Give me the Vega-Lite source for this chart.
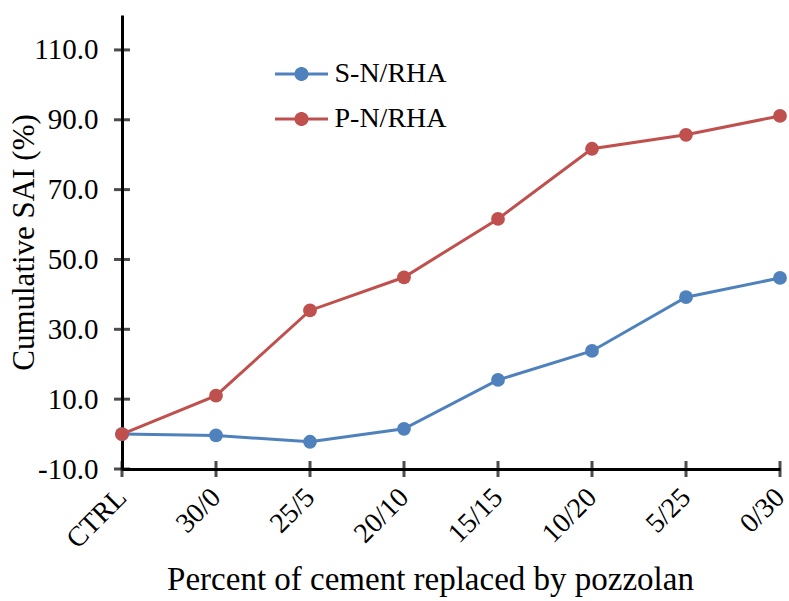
{
  "$schema": "https://vega.github.io/schema/vega-lite/v6.json",
  "autosize": {"type": "none"},
  "padding": {"left": 122, "top": 15, "right": 9, "bottom": 132},
  "width": 658,
  "height": 454,
  "background": "white",
  "config": {
    "view": {"stroke": null},
    "font": "Times New Roman, Liberation Serif, serif"
  },
  "layer": [
    {
      "data": {
        "values": [
          {"mix": "CTRL", "series": "S-N/RHA", "sai": 0.0},
          {"mix": "30/0", "series": "S-N/RHA", "sai": -0.4},
          {"mix": "25/5", "series": "S-N/RHA", "sai": -2.2},
          {"mix": "20/10", "series": "S-N/RHA", "sai": 1.5},
          {"mix": "15/15", "series": "S-N/RHA", "sai": 15.5},
          {"mix": "10/20", "series": "S-N/RHA", "sai": 23.8},
          {"mix": "5/25", "series": "S-N/RHA", "sai": 39.2},
          {"mix": "0/30", "series": "S-N/RHA", "sai": 44.7},
          {"mix": "CTRL", "series": "P-N/RHA", "sai": 0.0},
          {"mix": "30/0", "series": "P-N/RHA", "sai": 11.0},
          {"mix": "25/5", "series": "P-N/RHA", "sai": 35.4},
          {"mix": "20/10", "series": "P-N/RHA", "sai": 44.9},
          {"mix": "15/15", "series": "P-N/RHA", "sai": 61.6},
          {"mix": "10/20", "series": "P-N/RHA", "sai": 81.7},
          {"mix": "5/25", "series": "P-N/RHA", "sai": 85.7},
          {"mix": "0/30", "series": "P-N/RHA", "sai": 91.1}
        ]
      },
      "mark": {"type": "line", "strokeWidth": 3, "point": {"size": 190, "filled": true, "opacity": 1}},
      "encoding": {
        "x": {
          "field": "mix",
          "type": "ordinal",
          "sort": ["CTRL", "30/0", "25/5", "20/10", "15/15", "10/20", "5/25", "0/30"],
          "scale": {"type": "point", "padding": 0},
          "axis": {
            "title": "Percent of cement replaced by pozzolan",
            "titleFont": "Times New Roman, Liberation Serif, serif",
            "titleFontSize": 33,
            "titleFontWeight": "normal",
            "titleColor": "black",
            "titlePadding": 10,
            "titleX": 308,
            "labelAngle": -45,
            "labelAlign": "right",
            "labelBaseline": "middle",
            "labelFont": "Times New Roman, Liberation Serif, serif",
            "labelFontSize": 28,
            "labelColor": "black",
            "labelPadding": 24,
            "domainColor": "black",
            "domainWidth": 3,
            "ticks": false,
            "grid": false
          }
        },
        "y": {
          "field": "sai",
          "type": "quantitative",
          "scale": {"domain": [-10, 120], "nice": false, "zero": false},
          "axis": {
            "title": "Cumulative SAI (%)",
            "titleFont": "Times New Roman, Liberation Serif, serif",
            "titleFontSize": 31,
            "titleFontWeight": "normal",
            "titleColor": "black",
            "titlePadding": -7,
            "values": [-10, 10, 30, 50, 70, 90, 110],
            "labelExpr": "(datum.value < 0 ? '-' : '') + format(abs(datum.value), '.1f')",
            "labelFont": "Times New Roman, Liberation Serif, serif",
            "labelFontSize": 29,
            "labelColor": "black",
            "labelPadding": 24,
            "domainColor": "black",
            "domainWidth": 3,
            "ticks": false,
            "grid": false
          }
        },
        "color": {
          "field": "series",
          "type": "nominal",
          "sort": ["S-N/RHA", "P-N/RHA"],
          "scale": {"domain": ["S-N/RHA", "P-N/RHA"], "range": ["#4F81BD", "#C0504D"]},
          "legend": {
            "title": null,
            "orient": "none",
            "legendX": 165.5,
            "legendY": 45,
            "labelFont": "Times New Roman, Liberation Serif, serif",
            "labelFontSize": 28,
            "labelColor": "black",
            "symbolType": "M-2.65,-0.15L-0.684,-0.15A0.7,0.7 0 0 1 0.684,-0.15L2.65,-0.15L2.65,0.15L0.684,0.15A0.7,0.7 0 0 1 -0.684,0.15L-2.65,0.15Z",
            "symbolSize": 400,
            "symbolStrokeWidth": 0,
            "rowPadding": 17,
            "labelOffset": 19,
            "encode": {
              "symbols": {
                "update": {
                  "fill": {"scale": "color", "field": "value"},
                  "strokeWidth": {"value": 0},
                  "opacity": {"value": 1}
                }
              }
            }
          }
        }
      }
    },
    {
      "data": {"values": [{"v": -10}, {"v": 10}, {"v": 30}, {"v": 50}, {"v": 70}, {"v": 90}, {"v": 110}]},
      "mark": {"type": "tick", "orient": "horizontal", "color": "black", "thickness": 3, "size": 16},
      "encoding": {
        "y": {"field": "v", "type": "quantitative"},
        "x": {"datum": "CTRL", "type": "ordinal"}
      }
    },
    {
      "data": {"values": [{"mix": "CTRL"}, {"mix": "30/0"}, {"mix": "25/5"}, {"mix": "20/10"}, {"mix": "15/15"}, {"mix": "10/20"}, {"mix": "5/25"}, {"mix": "0/30"}]},
      "mark": {"type": "tick", "orient": "vertical", "color": "black", "thickness": 3, "size": 16},
      "encoding": {
        "x": {"field": "mix", "type": "ordinal", "sort": ["CTRL", "30/0", "25/5", "20/10", "15/15", "10/20", "5/25", "0/30"]},
        "y": {"datum": -10, "type": "quantitative"}
      }
    }
  ]
}
